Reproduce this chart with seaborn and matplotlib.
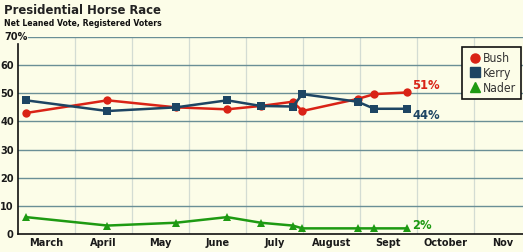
import matplotlib
matplotlib.use("Agg")
import matplotlib.pyplot as plt
import seaborn as sns
import pandas as pd
from matplotlib.lines import Line2D

# Poll dates in month units (0 = March 1)
dates = [0.14, 1.57, 2.77, 3.67, 4.26, 4.82, 4.99, 5.96, 6.25, 6.83]
bush = [43, 47.5, 45, 44.3, 45.5, 47, 43.7, 48, 49.7, 50.3]
kerry = [47.5, 43.7, 45, 47.5, 45.5, 45.3, 49.7, 47, 44.5, 44.5]
nader = [6, 3, 4, 6, 4, 3, 2, 2, 2, 2]
months = ["March", "April", "May", "June", "July", "August", "Sept", "October", "Nov"]
yticks = [0, 10, 20, 30, 40, 50, 60, 70]
ytick_labels = ["0", "10", "20", "30", "40", "50", "60", ""]
end_labels = {"Bush": "51%", "Kerry": "44%", "Nader": "2%"}

colors = {"Bush": "#d92316", "Kerry": "#1d4563", "Nader": "#1e9a12"}
markers = {"Bush": "o", "Kerry": "s", "Nader": "^"}

df = pd.concat([
    pd.DataFrame({"date": dates, "value": v, "candidate": n})
    for n, v in [("Bush", bush), ("Kerry", kerry), ("Nader", nader)]
])

sns.set_theme(style="white")
plt.rcParams["font.family"] = ["DejaVu Sans"]
plt.rcParams["font.stretch"] = "condensed"
bg = "#fcfde8"

fig = plt.figure(figsize=(5.23, 2.52), dpi=100, facecolor=bg)
ax = fig.add_axes([18 / 523, 18 / 252, 505 / 523, 197 / 252])
ax.set_facecolor(bg)

# gridlines
for i in range(1, 9):
    ax.axvline(i, color="#d3dcd3", lw=0.9, zorder=0)
for y in yticks[1:]:
    ax.axhline(y, color="#6a8f96", lw=1.0, zorder=0.5,
               xmin=(10 / 505) if y == 70 else 0)

sns.lineplot(data=df, x="date", y="value", hue="candidate", style="candidate",
             palette=colors, markers=markers, dashes=False, lw=1.8,
             markersize=6, markeredgewidth=0, ax=ax, legend=False, zorder=3)

ax.set_xlim(0, 505 / 57)
ax.set_ylim(0, 70)
ax.set_xticks([i + 0.5 for i in range(len(months))])
ax.set_xticklabels(months, fontsize=7.8, fontweight="bold", color="#1a1a1a",
                   fontstretch="condensed")
ax.set_yticks(yticks)
ax.set_yticklabels(ytick_labels, fontsize=7.8, fontweight="bold", color="#1a1a1a",
                   fontstretch="condensed")
ax.tick_params(axis="x", length=0, pad=3)
ax.tick_params(axis="y", length=0, pad=3)
ax.set_xlabel("")
ax.set_ylabel("")
ax.text(-14 / 57, 70, "70%", fontsize=7.8, fontweight="bold", color="#1a1a1a",
        fontstretch="condensed", ha="left", va="center")
for s in ["top", "right"]:
    ax.spines[s].set_visible(False)
for s in ["left", "bottom"]:
    ax.spines[s].set_color("#111111")
    ax.spines[s].set_linewidth(1.2)
ax.spines["left"].set_bounds(0, 67.5)

# end labels
for name, series in [("Bush", bush), ("Kerry", kerry), ("Nader", nader)]:
    yoff = {"Bush": 2.5, "Kerry": -2.5, "Nader": 1.0}[name]
    ax.text(dates[-1] + 0.09, series[-1] + yoff, end_labels[name], color=colors[name],
            fontsize=9.3, fontweight="bold", va="center", ha="left",
            fontstretch="condensed")

# legend
handles = [Line2D([], [], ls="", marker=markers[n], color=colors[n], markersize=6.5)
           for n in ["Bush", "Kerry", "Nader"]]
leg = ax.legend(handles, ["Bush", "Kerry", "Nader"], loc="upper right",
                bbox_to_anchor=(0.996, 0.949), frameon=True, fancybox=False,
                prop={"size": 8.7, "stretch": "condensed", "family": "DejaVu Sans"},
                handletextpad=0.05, borderpad=0.4, labelspacing=0.15,
                handlelength=1.3, borderaxespad=0)
leg.get_frame().set_edgecolor("#111111")
leg.get_frame().set_linewidth(1.2)
leg.get_frame().set_facecolor(bg)
leg.get_frame().set_alpha(1)
for t in leg.get_texts():
    t.set_color("#333333")

fig.text(4 / 523, 1 - 10 / 252, "Presidential Horse Race", fontsize=8.4,
         fontweight="bold", color="#222222", va="center", ha="left",
         fontstretch="normal")
fig.text(4 / 523, 1 - 24 / 252, "Net Leaned Vote, Registered Voters", fontsize=6.2,
         fontweight="bold", color="#111111", va="center", ha="left",
         fontstretch="condensed")

fig.savefig("out.png", dpi=100, facecolor=bg)
